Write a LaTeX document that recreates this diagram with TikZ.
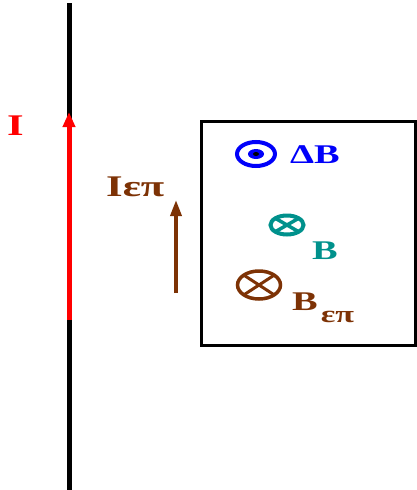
\documentclass[tikz,border=0pt]{standalone}
\usepackage{fontspec}
\setmainfont{Liberation Serif}
\usetikzlibrary{shapes.geometric,arrows.meta}
\definecolor{brn}{RGB}{125,50,5}
\definecolor{tl}{RGB}{0,145,140}
\definecolor{bl}{RGB}{0,0,250}
\definecolor{rd}{RGB}{255,0,0}
\newcommand{\wdtxt}[1]{\scalebox{1.42}[1]{#1}}
\begin{document}
\begin{tikzpicture}[x=1pt,y=-1pt,
  lbl/.style={font=\fontsize{30}{30}\selectfont\bfseries, inner sep=0pt, anchor=base west},
  lblb/.style={font=\fontsize{27}{27}\selectfont\bfseries, inner sep=0pt, anchor=base west},
  ell/.style={ellipse, draw, outer sep=0pt, inner sep=0pt},
  wire/.style={line width=5pt}]
\useasboundingbox (0,0) rectangle (417,490);
% wire
\coordinate (wtop) at (69,3);
\coordinate (wbot) at (69,490);
\coordinate (rbot) at (69,320);
\coordinate (rtip) at (69,112);
\draw[wire, black] (wtop) -- (wbot);
\draw[wire, rd, -{Triangle[length=15pt,width=12pt]}] (rbot) -- (rtip);
\node[lbl, text=rd] (I) at (7,135) {\wdtxt{I}};
% induced current arrow
\coordinate (ab) at (176,293);
\coordinate (at) at (176,200);
\draw[line width=3.5pt, brn, -{Triangle[length=16pt,width=11pt]}] (ab) -- (at);
\node[lbl, text=brn] (Iep) at (106,196) {\wdtxt{Iεπ}};
% loop
\draw[line width=3pt] (201,121) rectangle (415,345);
% delta B out of page
\node[ell, draw=bl, line width=4pt, minimum width=38pt, minimum height=24pt] (dB) at (256,154) {};
\fill[bl] (dB.center) ellipse (8 and 5);
\fill[black] (dB.center) ellipse (3 and 2);
\node[lblb, text=bl] (dBl) at (290,163) {\wdtxt{ΔB}};
% B into page
\node[ell, draw=tl, line width=4pt, minimum width=33pt, minimum height=19pt] (B) at (287,225) {};
\draw[tl, line width=3.5pt] (B.north east) -- (B.south west) (B.north west) -- (B.south east);
\node[lblb, text=tl] (Bl) at (312,259) {\wdtxt{B}};
% B induced into page
\node[ell, draw=brn, line width=3.5pt, minimum width=43pt, minimum height=28pt] (Be) at (259,285) {};
\draw[brn, line width=3pt] (Be.north east) -- (Be.south west) (Be.north west) -- (Be.south east);
\node[lblb, text=brn] (Bel) at (292,310) {\wdtxt{B}\hspace{3pt}\raisebox{-12pt}{\fontsize{24}{24}\selectfont\wdtxt{επ}}};
\end{tikzpicture}
\end{document}
